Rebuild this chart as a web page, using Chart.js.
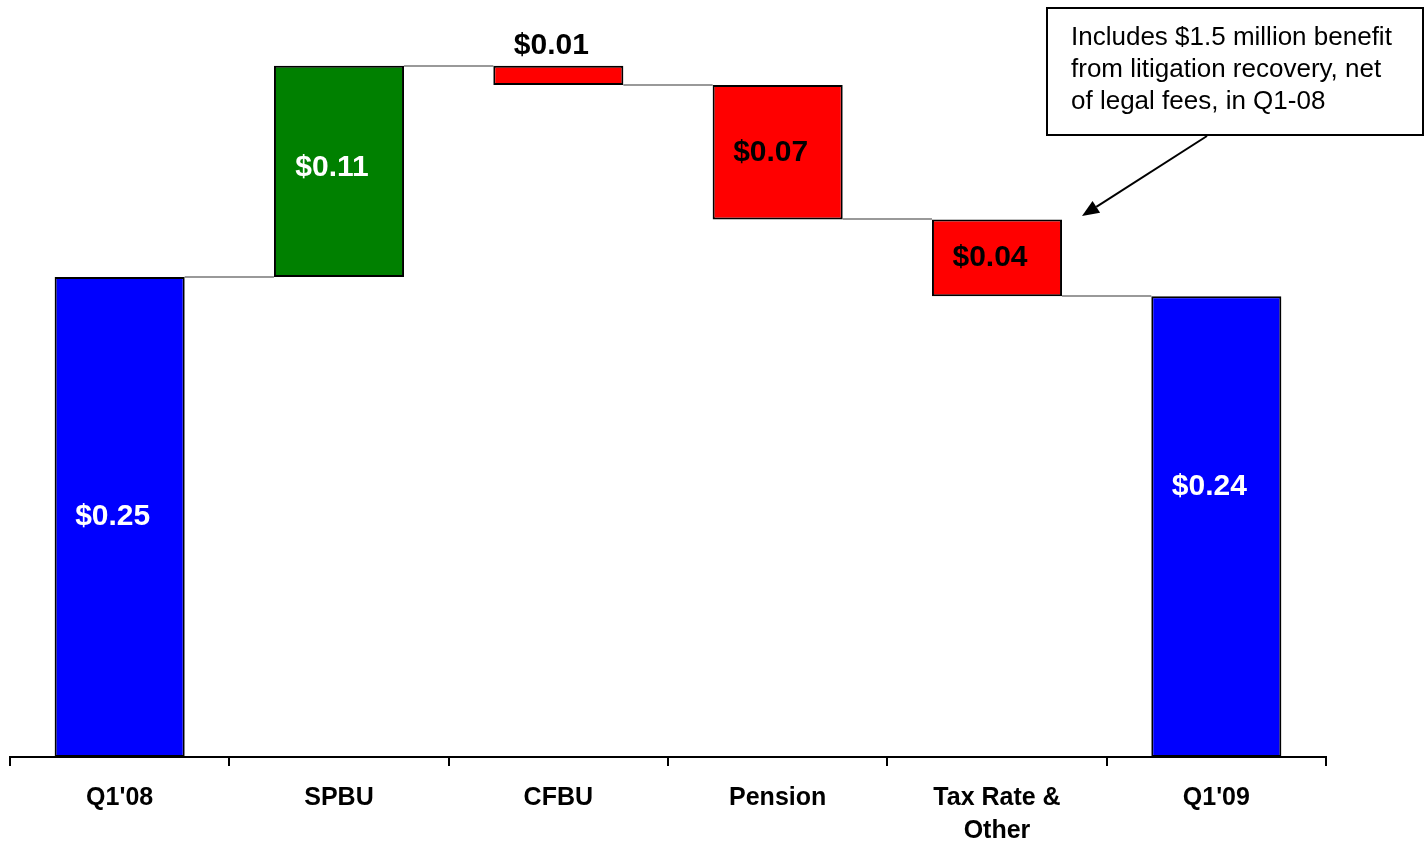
<!DOCTYPE html>
<html><head><meta charset="utf-8">
<script src="https://cdn.jsdelivr.net/npm/chart.js@4/dist/chart.umd.min.js"></script>
<style>html,body{margin:0;padding:0;background:#fff;overflow:hidden}
#wrap{position:relative;width:1426px;height:842px}</style>
</head><body><div id="wrap"><canvas id="c" width="1426" height="842"></canvas></div>
<script>
// ---- data ----
const categories = ["Q1'08", "SPBU", "CFBU", "Pension", ["Tax Rate &", "Other"], "Q1'09"];
const changes = [0.25, 0.11, -0.01, -0.07, -0.04, 0.24];
const isTotal = [true, false, false, false, false, true];
const valueLabels = ["$0.25", "$0.11", "$0.01", "$0.07", "$0.04", "$0.24"];
const noteLines = ["Includes $1.5 million benefit", "from litigation recovery, net", "of legal fees, in Q1-08"];

// ---- styles ----
const barColors = ['#0000FF', '#008000', '#FF0000', '#FF0000', '#FF0000', '#0000FF'];
const labelColors = ['#FFFFFF', '#FFFFFF', '#000000', '#000000', '#000000', '#FFFFFF'];
const FONT = "Arial, 'Liberation Sans', sans-serif";

// ---- floating ranges from changes ----
const ranges = [];
const ends = [];
let run = 0;
changes.forEach((v, i) => {
  if (isTotal[i]) { ranges.push([0, v]); run = v; }
  else {
    const s = run;
    run = Math.round((run + v) * 10000) / 10000;
    ranges.push([Math.min(s, run), Math.max(s, run)]);
  }
  ends.push(run);
});

const connectorPlugin = {
  id: 'connectors',
  beforeDatasetsDraw(chart) {
    const ctx = chart.ctx, y = chart.scales.y, bars = chart.getDatasetMeta(0).data;
    ctx.save();
    ctx.strokeStyle = '#999999';
    ctx.lineWidth = 2;
    for (let i = 0; i < bars.length - 1; i++) {
      const py = Math.round(y.getPixelForValue(ends[i]));
      const x1 = bars[i].x + bars[i].width / 2;
      const x2 = bars[i + 1].x - bars[i + 1].width / 2;
      ctx.beginPath(); ctx.moveTo(x1, py); ctx.lineTo(x2, py); ctx.stroke();
    }
    ctx.restore();
  }
};

const labelPlugin = {
  id: 'valueLabels',
  afterDatasetsDraw(chart, args, opts) {
    const ctx = chart.ctx, bars = chart.getDatasetMeta(0).data;
    ctx.save();
    ctx.font = 'bold 30px ' + FONT;
    ctx.textAlign = 'center';
    ctx.textBaseline = 'middle';
    bars.forEach((b, i) => {
      const pos = opts.place[i];
      let cy;
      if (pos === 'above') cy = b.y - 20;
      else cy = (b.y + b.base) / 2 + (opts.dy[i] || 0);
      ctx.fillStyle = labelColors[i];
      ctx.fillText(valueLabels[i], b.x + opts.dx, cy);
    });
    ctx.restore();
  }
};

const notePlugin = {
  id: 'note',
  afterDraw(chart) {
    const ctx = chart.ctx;
    ctx.save();
    ctx.fillStyle = '#FFFFFF';
    ctx.fillRect(1047, 8, 376, 127);
    ctx.strokeStyle = '#000';
    ctx.lineWidth = 2;
    ctx.strokeRect(1047, 8, 376, 127);
    ctx.fillStyle = '#000';
    ctx.font = '26px ' + FONT;
    ctx.textAlign = 'left';
    ctx.textBaseline = 'alphabetic';
    noteLines.forEach((t, i) => ctx.fillText(t, 1071, 45 + i * 32));
    // arrow
    const sx = 1207, sy = 136, tx = 1082, ty = 216;
    const dx = tx - sx, dy = ty - sy, L = Math.hypot(dx, dy);
    const ux = dx / L, uy = dy / L, hl = 17, hw = 7;
    ctx.beginPath(); ctx.moveTo(sx, sy); ctx.lineTo(tx - ux * hl, ty - uy * hl); ctx.stroke();
    ctx.beginPath();
    ctx.moveTo(tx, ty);
    ctx.lineTo(tx - ux * hl - uy * hw, ty - uy * hl + ux * hw);
    ctx.lineTo(tx - ux * hl + uy * hw, ty - uy * hl - ux * hw);
    ctx.closePath(); ctx.fill();
    ctx.restore();
  }
};

new Chart(document.getElementById('c'), {
  type: 'bar',
  data: {
    labels: categories,
    datasets: [{
      data: ranges,
      backgroundColor: barColors,
      borderColor: '#000000',
      borderWidth: 2,
      borderSkipped: false,
      categoryPercentage: 1,
      barPercentage: 0.593
    }]
  },
  options: {
    responsive: false,
    devicePixelRatio: 1,
    animation: false,
    layout: { padding: { left: 10, right: 100, top: 0, bottom: 0 } },
    plugins: {
      legend: { display: false },
      tooltip: { enabled: false },
      valueLabels: {
        dx: -7,
        place: ['c', 'c', 'above', 'c', 'c', 'c'],
        dy: [0, -4, 0, 0, 0, -40]
      }
    },
    scales: {
      x: {
        afterFit(scale) { scale.height = 85; },
        grid: { display: true, drawOnChartArea: false, drawTicks: true, tickLength: 9, color: '#000', lineWidth: 2 },
        border: { display: true, color: '#000', width: 2 },
        ticks: {
          color: '#000',
          font: { family: FONT, size: 25, weight: 'bold', lineHeight: 1.32 },
          padding: 16,
          maxRotation: 0,
          autoSkip: false
        }
      },
      y: { display: false, min: 0, max: 0.3943 }
    }
  },
  plugins: [connectorPlugin, labelPlugin, notePlugin]
});
</script>
</body></html>
